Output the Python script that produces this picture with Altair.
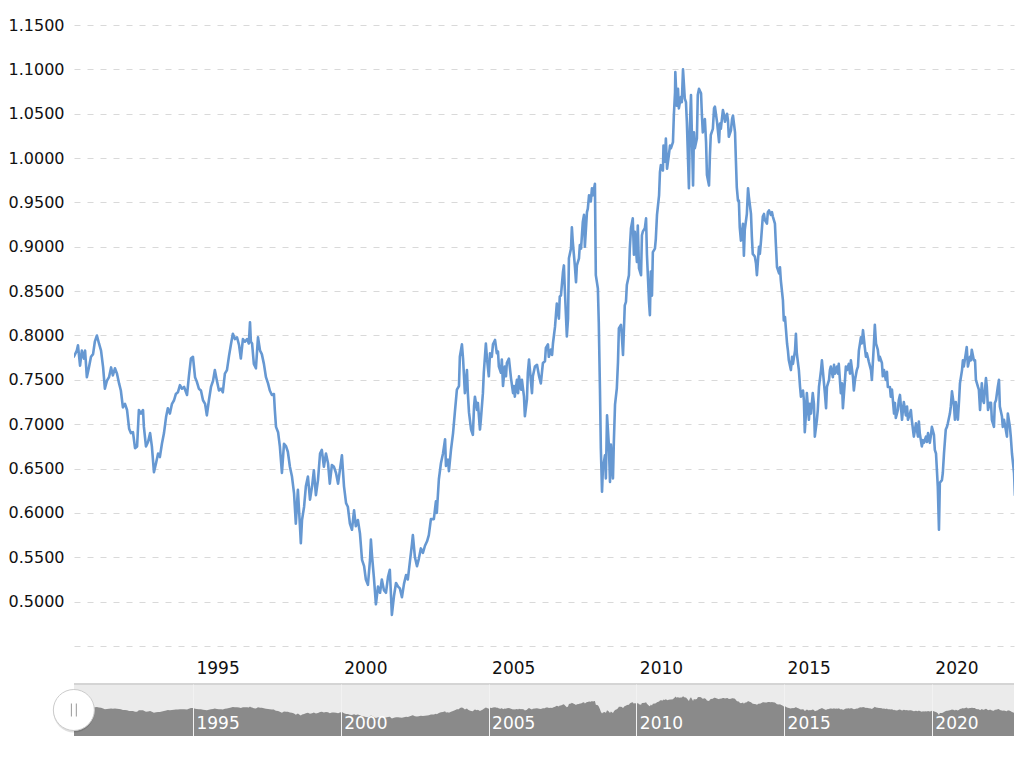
import altair as alt
import pandas as pd

# ---- data (decimal year, AUD/USD rate) ----
years = [
    1990.97, 1991.07, 1991.11, 1991.18, 1991.24, 1991.31, 1991.35, 1991.41, 1991.48, 1991.55,
    1991.62, 1991.68, 1991.75, 1991.82, 1991.89, 1991.96, 1992.02, 1992.09, 1992.16, 1992.23,
    1992.29, 1992.36, 1992.43, 1992.50, 1992.56, 1992.63, 1992.70, 1992.77, 1992.84, 1992.90,
    1992.97, 1993.04, 1993.11, 1993.17, 1993.24, 1993.31, 1993.34, 1993.41, 1993.48, 1993.55,
    1993.61, 1993.68, 1993.75, 1993.82, 1993.88, 1993.95, 1994.02, 1994.09, 1994.15, 1994.22,
    1994.29, 1994.36, 1994.42, 1994.49, 1994.56, 1994.63, 1994.70, 1994.80, 1994.86, 1994.93,
    1995.00, 1995.07, 1995.13, 1995.20, 1995.27, 1995.34, 1995.41, 1995.47, 1995.54, 1995.61,
    1995.68, 1995.74, 1995.81, 1995.88, 1995.95, 1996.01, 1996.08, 1996.15, 1996.22, 1996.29,
    1996.35, 1996.42, 1996.49, 1996.56, 1996.62, 1996.69, 1996.76, 1996.83, 1996.89, 1996.93,
    1996.96, 1997.00, 1997.06, 1997.13, 1997.20, 1997.27, 1997.33, 1997.40, 1997.47, 1997.54,
    1997.60, 1997.67, 1997.74, 1997.77, 1997.81, 1997.88, 1997.94, 1998.01, 1998.08, 1998.15,
    1998.21, 1998.28, 1998.35, 1998.42, 1998.48, 1998.55, 1998.62, 1998.65, 1998.69, 1998.76,
    1998.82, 1998.89, 1998.96, 1999.03, 1999.09, 1999.16, 1999.23, 1999.30, 1999.36, 1999.43,
    1999.50, 1999.57, 1999.63, 1999.70, 1999.77, 1999.84, 1999.91, 1999.97, 2000.04, 2000.11,
    2000.18, 2000.24, 2000.31, 2000.38, 2000.45, 2000.51, 2000.58, 2000.65, 2000.72, 2000.79,
    2000.85, 2000.92, 2000.99, 2001.02, 2001.06, 2001.12, 2001.19, 2001.26, 2001.33, 2001.39,
    2001.46, 2001.53, 2001.60, 2001.66, 2001.73, 2001.80, 2001.87, 2001.94, 2002.00, 2002.07,
    2002.14, 2002.21, 2002.27, 2002.34, 2002.41, 2002.44, 2002.51, 2002.58, 2002.64, 2002.71,
    2002.78, 2002.85, 2002.92, 2002.98, 2003.05, 2003.15, 2003.22, 2003.25, 2003.32, 2003.39,
    2003.46, 2003.53, 2003.56, 2003.63, 2003.66, 2003.73, 2003.80, 2003.86, 2003.93, 2004.00,
    2004.03, 2004.10, 2004.14, 2004.20, 2004.27, 2004.30, 2004.34, 2004.41, 2004.47, 2004.51,
    2004.54, 2004.61, 2004.64, 2004.71, 2004.74, 2004.81, 2004.84, 2004.91, 2004.95, 2005.01,
    2005.05, 2005.11, 2005.15, 2005.22, 2005.28, 2005.32, 2005.35, 2005.42, 2005.45, 2005.49,
    2005.55, 2005.59, 2005.62, 2005.69, 2005.76, 2005.83, 2005.86, 2005.89, 2005.96, 2006.00,
    2006.03, 2006.10, 2006.13, 2006.20, 2006.23, 2006.30, 2006.33, 2006.37, 2006.43, 2006.47,
    2006.50, 2006.57, 2006.64, 2006.71, 2006.77, 2006.84, 2006.91, 2006.94, 2007.01, 2007.04,
    2007.11, 2007.15, 2007.18, 2007.25, 2007.31, 2007.38, 2007.41, 2007.45, 2007.52, 2007.55,
    2007.58, 2007.65, 2007.69, 2007.72, 2007.79, 2007.82, 2007.85, 2007.92, 2007.96, 2007.99,
    2008.06, 2008.09, 2008.13, 2008.19, 2008.23, 2008.26, 2008.33, 2008.36, 2008.40, 2008.46,
    2008.50, 2008.53, 2008.60, 2008.63, 2008.70, 2008.73, 2008.77, 2008.80, 2008.84, 2008.87,
    2008.94, 2008.97, 2009.01, 2009.07, 2009.11, 2009.14, 2009.21, 2009.24, 2009.28, 2009.34,
    2009.38, 2009.41, 2009.48, 2009.51, 2009.55, 2009.61, 2009.65, 2009.68, 2009.75, 2009.78,
    2009.82, 2009.88, 2009.92, 2009.95, 2010.02, 2010.05, 2010.09, 2010.16, 2010.19, 2010.22,
    2010.29, 2010.33, 2010.36, 2010.43, 2010.46, 2010.49, 2010.53, 2010.56, 2010.63, 2010.66,
    2010.70, 2010.77, 2010.80, 2010.83, 2010.90, 2010.92, 2010.97, 2011.00, 2011.04, 2011.10,
    2011.14, 2011.17, 2011.24, 2011.27, 2011.31, 2011.32, 2011.37, 2011.41, 2011.44, 2011.51,
    2011.54, 2011.58, 2011.64, 2011.68, 2011.71, 2011.78, 2011.81, 2011.85, 2011.92, 2011.95,
    2011.98, 2012.05, 2012.08, 2012.12, 2012.19, 2012.22, 2012.25, 2012.32, 2012.36, 2012.39,
    2012.46, 2012.49, 2012.52, 2012.59, 2012.63, 2012.66, 2012.73, 2012.80, 2012.83, 2012.86,
    2012.93, 2012.96, 2013.00, 2013.07, 2013.10, 2013.13, 2013.20, 2013.24, 2013.27, 2013.34,
    2013.37, 2013.40, 2013.44, 2013.47, 2013.50, 2013.54, 2013.61, 2013.64, 2013.67, 2013.74,
    2013.78, 2013.81, 2013.88, 2013.91, 2013.94, 2014.01, 2014.05, 2014.08, 2014.15, 2014.18,
    2014.22, 2014.28, 2014.32, 2014.35, 2014.42, 2014.45, 2014.49, 2014.55, 2014.59, 2014.62,
    2014.69, 2014.72, 2014.76, 2014.83, 2014.86, 2014.89, 2014.96, 2014.99, 2015.03, 2015.10,
    2015.13, 2015.16, 2015.23, 2015.27, 2015.30, 2015.37, 2015.40, 2015.43, 2015.50, 2015.54,
    2015.57, 2015.64, 2015.67, 2015.70, 2015.74, 2015.77, 2015.84, 2015.87, 2015.91, 2015.97,
    2016.01, 2016.04, 2016.11, 2016.14, 2016.18, 2016.25, 2016.28, 2016.31, 2016.38, 2016.42,
    2016.45, 2016.52, 2016.55, 2016.58, 2016.65, 2016.69, 2016.72, 2016.79, 2016.82, 2016.85,
    2016.92, 2016.96, 2016.99, 2017.06, 2017.09, 2017.13, 2017.19, 2017.23, 2017.26, 2017.33,
    2017.36, 2017.40, 2017.46, 2017.50, 2017.53, 2017.60, 2017.63, 2017.67, 2017.73, 2017.77,
    2017.80, 2017.87, 2017.94, 2017.97, 2018.04, 2018.07, 2018.11, 2018.17, 2018.21, 2018.24,
    2018.31, 2018.34, 2018.38, 2018.44, 2018.48, 2018.51, 2018.58, 2018.61, 2018.65, 2018.72,
    2018.75, 2018.78, 2018.85, 2018.88, 2018.92, 2018.99, 2019.02, 2019.05, 2019.12, 2019.16,
    2019.19, 2019.26, 2019.29, 2019.32, 2019.39, 2019.43, 2019.46, 2019.53, 2019.56, 2019.59,
    2019.66, 2019.70, 2019.73, 2019.80, 2019.83, 2019.87, 2019.93, 2019.97, 2020.00, 2020.07,
    2020.10, 2020.14, 2020.20, 2020.24, 2020.27, 2020.34, 2020.37, 2020.41, 2020.47, 2020.51,
    2020.54, 2020.61, 2020.64, 2020.68, 2020.75, 2020.78, 2020.81, 2020.88, 2020.92, 2020.95,
    2021.02, 2021.05, 2021.08, 2021.15, 2021.18, 2021.22, 2021.29, 2021.32, 2021.35, 2021.42,
    2021.46, 2021.49, 2021.56, 2021.59, 2021.63, 2021.69, 2021.73, 2021.76, 2021.83, 2021.86,
    2021.90, 2021.96, 2022.00, 2022.03, 2022.10, 2022.13, 2022.17, 2022.23, 2022.27, 2022.30,
    2022.37, 2022.40, 2022.44, 2022.50, 2022.54, 2022.57, 2022.64, 2022.67, 2022.71, 2022.78,
    2022.81, 2022.84, 2022.91, 2022.94, 2022.98, 2023.05, 2023.08, 2023.12, 2023.18, 2023.25,
    2023.35, 2023.45, 2023.55, 2023.62,
]
rates = [
    0.776, 0.783, 0.789, 0.766, 0.783, 0.774, 0.783, 0.753, 0.764, 0.776,
    0.779, 0.793, 0.800, 0.791, 0.783, 0.764, 0.740, 0.749, 0.753, 0.764,
    0.755, 0.763, 0.757, 0.746, 0.738, 0.719, 0.723, 0.716, 0.695, 0.690,
    0.691, 0.673, 0.675, 0.716, 0.712, 0.716, 0.697, 0.675, 0.680, 0.690,
    0.675, 0.646, 0.656, 0.667, 0.663, 0.678, 0.690, 0.708, 0.718, 0.712,
    0.723, 0.727, 0.734, 0.736, 0.744, 0.740, 0.742, 0.733, 0.753, 0.774,
    0.776, 0.753, 0.748, 0.740, 0.738, 0.727, 0.723, 0.710, 0.727, 0.742,
    0.749, 0.761, 0.749, 0.738, 0.740, 0.736, 0.757, 0.761, 0.777, 0.791,
    0.802, 0.796, 0.798, 0.789, 0.774, 0.796, 0.793, 0.796, 0.791, 0.815,
    0.793, 0.791, 0.768, 0.763, 0.798, 0.783, 0.779, 0.768, 0.753, 0.746,
    0.738, 0.733, 0.734, 0.716, 0.697, 0.691, 0.675, 0.645, 0.678, 0.675,
    0.669, 0.652, 0.641, 0.622, 0.588, 0.626, 0.585, 0.566, 0.592, 0.607,
    0.630, 0.641, 0.615, 0.630, 0.648, 0.620, 0.637, 0.667, 0.671, 0.652,
    0.667, 0.656, 0.633, 0.654, 0.652, 0.645, 0.633, 0.648, 0.665, 0.630,
    0.611, 0.607, 0.588, 0.581, 0.603, 0.585, 0.592, 0.577, 0.547, 0.540,
    0.525, 0.519, 0.547, 0.570, 0.551, 0.528, 0.497, 0.517, 0.510, 0.525,
    0.513, 0.510, 0.528, 0.536, 0.485, 0.506, 0.521, 0.517, 0.515, 0.505,
    0.520, 0.530, 0.525, 0.545, 0.565, 0.575, 0.550, 0.540, 0.548, 0.560,
    0.555, 0.563, 0.568, 0.575, 0.593, 0.593, 0.613, 0.600, 0.638, 0.656,
    0.667, 0.683, 0.653, 0.660, 0.647, 0.671, 0.690, 0.713, 0.739, 0.743,
    0.776, 0.790, 0.773, 0.735, 0.761, 0.735, 0.713, 0.694, 0.688, 0.720,
    0.731, 0.716, 0.724, 0.694, 0.705, 0.735, 0.758, 0.791, 0.773, 0.754,
    0.780, 0.776, 0.790, 0.795, 0.780, 0.782, 0.765, 0.758, 0.773, 0.743,
    0.765, 0.754, 0.769, 0.774, 0.752, 0.735, 0.743, 0.731, 0.750, 0.735,
    0.754, 0.739, 0.750, 0.731, 0.709, 0.728, 0.758, 0.773, 0.750, 0.735,
    0.754, 0.765, 0.767, 0.754, 0.746, 0.769, 0.771, 0.786, 0.790, 0.776,
    0.784, 0.778, 0.791, 0.810, 0.836, 0.819, 0.844, 0.845, 0.872, 0.879,
    0.853, 0.799, 0.819, 0.887, 0.898, 0.922, 0.906, 0.879, 0.860, 0.879,
    0.887, 0.902, 0.898, 0.928, 0.936, 0.900, 0.939, 0.943, 0.958, 0.951,
    0.966, 0.958, 0.971, 0.868, 0.853, 0.815, 0.740, 0.673, 0.624, 0.650,
    0.665, 0.639, 0.710, 0.677, 0.635, 0.677, 0.639, 0.680, 0.722, 0.740,
    0.770, 0.808, 0.812, 0.800, 0.778, 0.834, 0.838, 0.857, 0.868, 0.898,
    0.921, 0.932, 0.891, 0.917, 0.883, 0.924, 0.876, 0.868, 0.913, 0.917,
    0.921, 0.932, 0.891, 0.838, 0.823, 0.872, 0.845, 0.894, 0.898, 0.909,
    0.936, 0.958, 0.984, 0.992, 0.986, 1.014, 0.996, 1.022, 0.988, 1.003,
    1.014, 1.011, 1.018, 1.048, 1.074, 1.097, 1.059, 1.078, 1.056, 1.069,
    1.063, 1.100, 1.067, 1.063, 1.041, 0.966, 1.033, 1.071, 0.969, 1.029,
    1.011, 1.022, 1.071, 1.078, 1.073, 1.048, 1.029, 1.044, 1.018, 0.981,
    0.969, 1.003, 1.026, 1.033, 1.056, 1.058, 1.041, 1.018, 1.039, 1.033,
    1.054, 1.050, 1.041, 1.050, 1.043, 1.024, 1.031, 1.044, 1.048, 1.029,
    0.997, 0.967, 0.952, 0.952, 0.922, 0.907, 0.926, 0.890, 0.919, 0.937,
    0.966, 0.956, 0.937, 0.911, 0.892, 0.889, 0.881, 0.868, 0.900, 0.892,
    0.907, 0.934, 0.937, 0.930, 0.926, 0.939, 0.941, 0.936, 0.939, 0.934,
    0.926, 0.904, 0.877, 0.870, 0.877, 0.862, 0.840, 0.817, 0.821, 0.791,
    0.783, 0.772, 0.761, 0.776, 0.768, 0.783, 0.802, 0.780, 0.761, 0.742,
    0.731, 0.738, 0.727, 0.691, 0.712, 0.735, 0.705, 0.723, 0.712, 0.735,
    0.723, 0.686, 0.705, 0.716, 0.742, 0.761, 0.772, 0.761, 0.735, 0.718,
    0.742, 0.750, 0.761, 0.765, 0.753, 0.767, 0.757, 0.765, 0.757, 0.768,
    0.735, 0.746, 0.718, 0.750, 0.765, 0.761, 0.768, 0.757, 0.772, 0.753,
    0.738, 0.750, 0.761, 0.765, 0.783, 0.798, 0.791, 0.806, 0.787, 0.776,
    0.780, 0.770, 0.761, 0.750, 0.791, 0.812, 0.791, 0.784, 0.772, 0.776,
    0.769, 0.754, 0.761, 0.750, 0.759, 0.742, 0.742, 0.731, 0.739, 0.712,
    0.724, 0.707, 0.716, 0.727, 0.733, 0.705, 0.716, 0.725, 0.710, 0.720,
    0.705, 0.712, 0.716, 0.705, 0.686, 0.694, 0.701, 0.686, 0.703, 0.690,
    0.675, 0.682, 0.679, 0.686, 0.680, 0.690, 0.679, 0.688, 0.697, 0.688,
    0.671, 0.667, 0.630, 0.581, 0.634, 0.637, 0.645, 0.667, 0.694, 0.697,
    0.701, 0.712, 0.720, 0.737, 0.720, 0.705, 0.725, 0.705, 0.727, 0.746,
    0.761, 0.772, 0.765, 0.780, 0.787, 0.765, 0.776, 0.772, 0.784, 0.772,
    0.772, 0.750, 0.742, 0.739, 0.716, 0.746, 0.727, 0.724, 0.752, 0.742,
    0.716, 0.724, 0.724, 0.705, 0.697, 0.724, 0.727, 0.742, 0.750, 0.720,
    0.709, 0.697, 0.705, 0.694, 0.686, 0.712, 0.697, 0.686, 0.667, 0.645,
    0.620, 0.634, 0.667, 0.675, 0.679, 0.690, 0.709, 0.715, 0.705, 0.690,
    0.670, 0.680, 0.665, 0.660,
]

tick_years = [1995, 2000, 2005, 2010, 2015, 2020]
y_ticks = [0.45, 0.50, 0.55, 0.60, 0.65, 0.70, 0.75, 0.80, 0.85, 0.90,
           0.95, 1.00, 1.05, 1.10, 1.15]
view_start = (1990, 12, 23)
view_end = (2022, 10, 12)
left_handle_year = [1990.97]

LINE = "#6698d2"
FONT = "DejaVu Sans"


def to_date(t):
    return pd.Timestamp("1970-01-01") + pd.to_timedelta((t - 1970.0) * 365.2425, unit="D")


df = pd.DataFrame({"date": [to_date(t) for t in years], "rate": rates})
left_df = pd.DataFrame({"date": [to_date(t) for t in left_handle_year]})

x_domain = [alt.DateTime(year=view_start[0], month=view_start[1], date=view_start[2]),
            alt.DateTime(year=view_end[0], month=view_end[1], date=view_end[2])]
x_values = [alt.DateTime(year=y, month=1, date=1) for y in tick_years]
x_scale = alt.Scale(domain=x_domain)

W = 940

main = alt.Chart(df).mark_line(
    color=LINE, strokeWidth=2.6, clip=True, strokeJoin="round", strokeCap="round"
).encode(
    x=alt.X("date:T", scale=x_scale, title=None,
            axis=alt.Axis(values=x_values, format="%Y", labelAlign="left", labelOffset=3,
                          labelPadding=27, labelBaseline="alphabetic", ticks=False, tickSize=0,
                          domain=False, grid=False, labelFontSize=17, labelColor="#111111",
                          labelFont=FONT, labelFlush=False, labelOverlap=False)),
    y=alt.Y("rate:Q", title=None,
            scale=alt.Scale(domain=[0.45, 1.15], nice=False, zero=False),
            axis=alt.Axis(values=y_ticks,
                          labelExpr="datum.value < 0.47 ? '' : format(datum.value, '.4f')",
                          grid=True, gridDash=[6, 7], gridColor="#d9d9d9", gridWidth=1,
                          ticks=False, tickSize=0, domain=False, labelPadding=10,
                          labelFontSize=16, labelColor="#111111", labelFont=FONT,
                          labelOverlap=False, labelFlush=False)),
).properties(width=W, height=621)

nav_area = alt.Chart(df).mark_area(color="#8a8a8a", clip=True, opacity=1).encode(
    x=alt.X("date:T", scale=x_scale, title=None,
            axis=alt.Axis(values=x_values, format="%Y", labelAlign="left", labelOffset=3,
                          labelPadding=-8, labelBaseline="alphabetic", labelColor="#ffffff",
                          grid=True, gridColor="#f2f2f2", gridWidth=1, ticks=False, tickSize=0,
                          domain=False, zindex=1, labelFontSize=17, labelFont=FONT,
                          labelFlush=False, labelOverlap=False)),
    y=alt.Y("rate:Q", scale=alt.Scale(domain=[0, 1.44], nice=False), axis=None),
)

nav_border = alt.Chart(df).mark_rule(color="#d4d4d4", strokeWidth=1).encode(
    x=alt.value(0), x2=alt.value(W), y=alt.value(0)
)

shadow = alt.Chart(left_df).mark_point(
    shape="circle", size=1681, filled=True, color="#000000", opacity=0.12, yOffset=2
).encode(x=alt.X("date:T", scale=x_scale), y=alt.value(26))
knob = alt.Chart(left_df).mark_point(
    shape="circle", size=1681, filled=True, fill="#ffffff", stroke="#cccccc",
    strokeWidth=1, opacity=1
).encode(x=alt.X("date:T", scale=x_scale), y=alt.value(26))
grip = alt.Chart(left_df).mark_point(
    shape="M-0.38,-1L-0.38,1M0.38,-1L0.38,1", size=169, filled=False,
    stroke="#999999", strokeWidth=1, opacity=1
).encode(x=alt.X("date:T", scale=x_scale), y=alt.value(26))

nav = alt.layer(nav_area, nav_border, shadow, knob, grip).properties(
    width=W, height=52, view=alt.ViewBackground(fill="#ebebeb", strokeWidth=0)
)

chart = alt.vconcat(main, nav, spacing=38, bounds="flush").properties(
    padding={"left": 0, "top": 9, "right": 0, "bottom": 0}
).configure(font=FONT).configure_view(strokeWidth=0)

chart.save("out.html", embed_options={"renderer": "svg", "actions": False})
